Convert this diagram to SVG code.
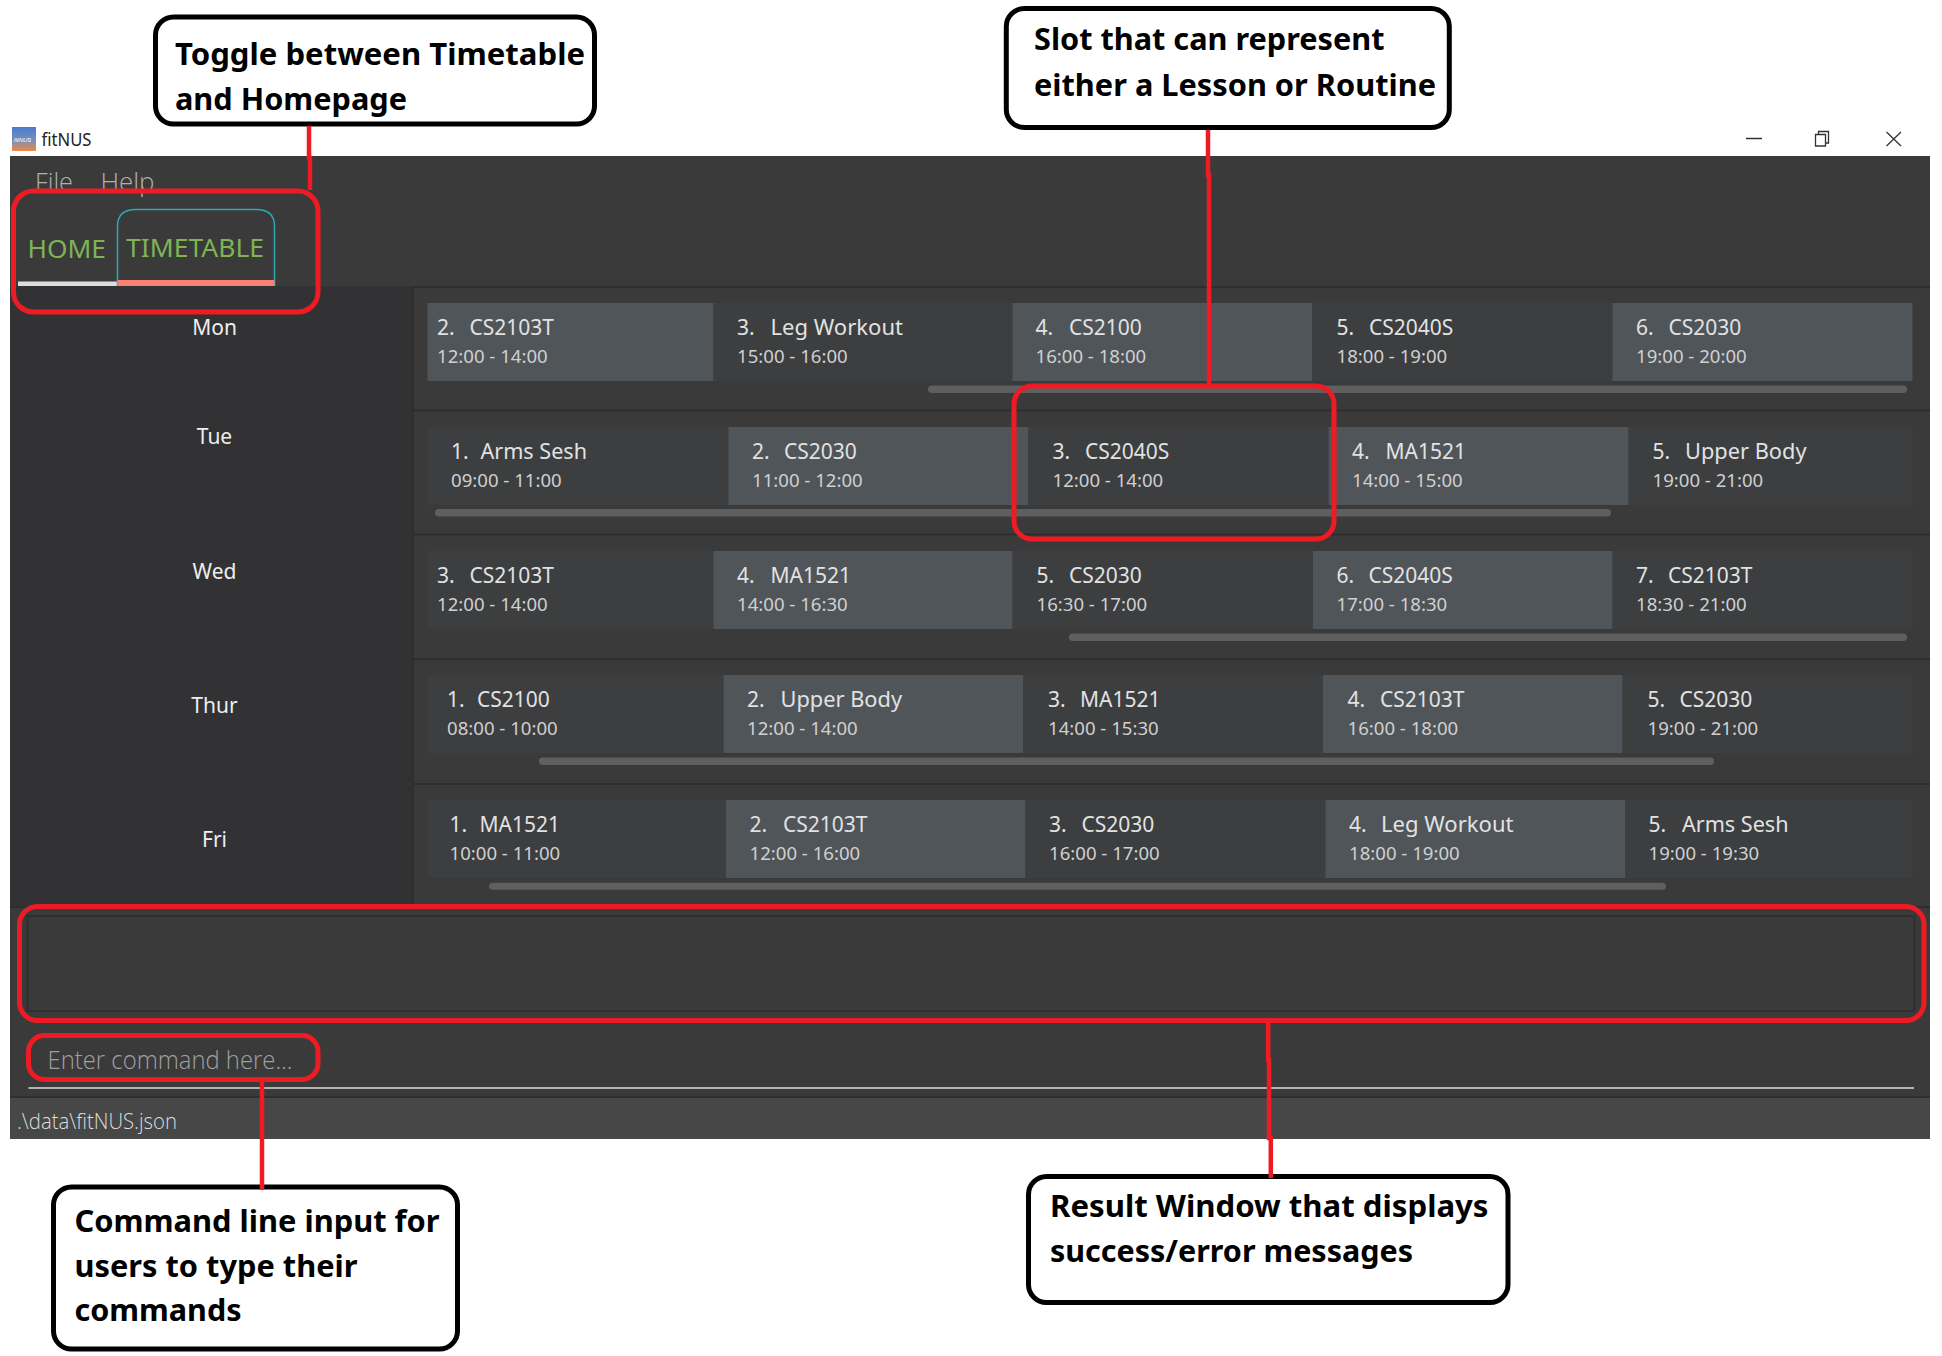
<svg xmlns="http://www.w3.org/2000/svg" width="1942" height="1356" viewBox="0 0 1942 1356">
<style>
.ui{font-family:"Noto Sans","Open Sans","Liberation Sans",sans-serif}
.call{font-family:"Noto Sans","Open Sans","Liberation Sans",sans-serif;font-weight:700;font-size:31px;fill:#000}
.box{fill:#fff;stroke:#000;stroke-width:5}
.red{fill:none;stroke:#ed1c24;stroke-width:5}
.conn{fill:none;stroke:#ed1c24;stroke-width:4.5}
.light{fill:#50555a}
.dark{fill:#3c3e40}
.t1{font-family:"Noto Sans","Open Sans",sans-serif;font-size:21px;fill:#e2e2e2}
.t2{font-family:"Noto Sans","Open Sans",sans-serif;font-size:18.6px;fill:#d0d0d0}
.day{font-family:"Noto Sans","Open Sans",sans-serif;font-size:21px;fill:#eee;text-anchor:middle}
.sb{fill:#5f5f5f}
.sep{stroke:#2e2e2e;stroke-width:2;fill:none}
.thin{font-family:"Open Sans","Noto Sans",sans-serif;font-weight:300}
</style>
<defs>
<linearGradient id="ico" x1="0" y1="0" x2="0" y2="1"><stop offset="0" stop-color="#4a7ccb"/><stop offset="0.5" stop-color="#6f8fc0"/><stop offset="1" stop-color="#ea8a45"/></linearGradient>
</defs>
<rect width="1942" height="1356" fill="#fff"/>
<g id="titlebar">
<rect x="12" y="127" width="24" height="24" fill="url(#ico)"/>
<text x="14" y="142" font-family="Liberation Sans,sans-serif" font-size="6" font-style="italic" fill="#fff">fitNUS</text>
<text x="41.500" y="145.500" class="ui" font-size="18" fill="#222" textLength="50" lengthAdjust="spacingAndGlyphs">fitNUS</text>
<path d="M1746 138.500H1762" stroke="#333" stroke-width="1.500" fill="none"/>
<path d="M1815.500 134.500h10v11.500h-10zM1818.500 134.500v-3h10v11.500h-3" stroke="#333" stroke-width="1.300" fill="none"/>
<path d="M1886.500 132L1901 146M1901 132L1886.500 146" stroke="#333" stroke-width="1.300" fill="none"/>
</g>
<g id="window">
<rect x="10" y="156" width="1920" height="983" fill="#3a3a3a"/>
<rect x="10" y="286" width="403" height="620" fill="#323234"/>
<path class="sep" d="M413 287H1930M413 410.500H1930M413 534.500H1930M413 659H1930M413 784H1930M10 907H1930M413 286V906M10 1097H1930"/>
<rect x="10" y="1098" width="1920" height="41" fill="#474747"/>
</g>
<g id="menu">
<text x="35" y="191" class="thin" font-size="26" fill="#b0b0b0" textLength="38" lengthAdjust="spacingAndGlyphs">File</text>
<text x="100.500" y="191" class="thin" font-size="26" fill="#b0b0b0" textLength="54" lengthAdjust="spacingAndGlyphs">Help</text>
</g>
<g id="tab-home">
<rect x="18" y="281.500" width="99" height="4.500" fill="#ddd"/>
<text x="27.500" y="258" class="ui" font-size="26" fill="#7fb356" textLength="78.500" lengthAdjust="spacingAndGlyphs">HOME</text>
</g>
<g id="tab-timetable">
<path d="M117.500 286V226Q117.500 209.500 136 209.500H256Q274.500 209.500 274.500 226V286" fill="none" stroke="#2aa9b2" stroke-width="1.500"/>
<rect x="117.500" y="280" width="157" height="6" fill="#fa8072"/>
<text x="126" y="256.500" class="ui" font-size="26" fill="#7fb356" textLength="138" lengthAdjust="spacingAndGlyphs">TIMETABLE</text>
</g>
<g id="days">
<text x="214.500" y="335" class="day">Mon</text>
<text x="214.500" y="444" class="day">Tue</text>
<text x="214.500" y="579" class="day">Wed</text>
<text x="214.500" y="713" class="day">Thur</text>
<text x="214.500" y="847" class="day">Fri</text>
</g>
<g id="row-mon">
<g id="mon-1"><rect class="light" x="427.500" y="303" width="286" height="78"/><text class="t1" y="335"><tspan x="437">2.</tspan> <tspan x="469.500">CS2103T</tspan></text><text class="t2" x="437" y="363">12:00 - 14:00</text></g>
<g id="mon-2"><rect class="dark" x="713.500" y="303" width="299" height="78"/><text class="t1" y="335"><tspan x="737">3.</tspan> <tspan x="770.500" textLength="132.500" lengthAdjust="spacingAndGlyphs">Leg Workout</tspan></text><text class="t2" x="737" y="363">15:00 - 16:00</text></g>
<g id="mon-3"><rect class="light" x="1012.500" y="303" width="299.500" height="78"/><text class="t1" y="335"><tspan x="1035.500">4.</tspan> <tspan x="1069">CS2100</tspan></text><text class="t2" x="1035.500" y="363">16:00 - 18:00</text></g>
<g id="mon-4"><rect class="dark" x="1312" y="303" width="300.500" height="78"/><text class="t1" y="335"><tspan x="1336.500">5.</tspan> <tspan x="1369">CS2040S</tspan></text><text class="t2" x="1336.500" y="363">18:00 - 19:00</text></g>
<g id="mon-5"><rect class="light" x="1612.500" y="303" width="300" height="78"/><text class="t1" y="335"><tspan x="1636">6.</tspan> <tspan x="1668.500">CS2030</tspan></text><text class="t2" x="1636" y="363">19:00 - 20:00</text></g>
<rect class="sb" x="928" y="385.500" width="979" height="7.500" rx="3.700"/>
</g>
<g id="row-tue">
<g id="tue-1"><rect class="dark" x="427.500" y="427" width="301" height="78"/><text class="t1" y="459"><tspan x="451">1.</tspan> <tspan x="480.500" textLength="106.500" lengthAdjust="spacingAndGlyphs">Arms Sesh</tspan></text><text class="t2" x="451" y="487">09:00 - 11:00</text></g>
<g id="tue-2"><rect class="light" x="728.500" y="427" width="299.500" height="78"/><text class="t1" y="459"><tspan x="752">2.</tspan> <tspan x="784">CS2030</tspan></text><text class="t2" x="752" y="487">11:00 - 12:00</text></g>
<g id="tue-3"><rect class="dark" x="1028" y="427" width="300.500" height="78"/><text class="t1" y="459"><tspan x="1052.500">3.</tspan> <tspan x="1085">CS2040S</tspan></text><text class="t2" x="1052.500" y="487">12:00 - 14:00</text></g>
<g id="tue-4"><rect class="light" x="1328.500" y="427" width="300" height="78"/><text class="t1" y="459"><tspan x="1352">4.</tspan> <tspan x="1385.500">MA1521</tspan></text><text class="t2" x="1352" y="487">14:00 - 15:00</text></g>
<g id="tue-5"><rect class="dark" x="1628.500" y="427" width="284" height="78"/><text class="t1" y="459"><tspan x="1652.500">5.</tspan> <tspan x="1685" textLength="121.500" lengthAdjust="spacingAndGlyphs">Upper Body</tspan></text><text class="t2" x="1652.500" y="487">19:00 - 21:00</text></g>
<rect class="sb" x="435" y="509" width="1176" height="7.500" rx="3.700"/>
</g>
<g id="row-wed">
<g id="wed-1"><rect class="dark" x="427.500" y="551" width="286" height="78"/><text class="t1" y="583"><tspan x="437">3.</tspan> <tspan x="469.500">CS2103T</tspan></text><text class="t2" x="437" y="611">12:00 - 14:00</text></g>
<g id="wed-2"><rect class="light" x="713.500" y="551" width="299" height="78"/><text class="t1" y="583"><tspan x="737">4.</tspan> <tspan x="770.500">MA1521</tspan></text><text class="t2" x="737" y="611">14:00 - 16:30</text></g>
<g id="wed-3"><rect class="dark" x="1012.500" y="551" width="300.500" height="78"/><text class="t1" y="583"><tspan x="1036.500">5.</tspan> <tspan x="1069">CS2030</tspan></text><text class="t2" x="1036.500" y="611">16:30 - 17:00</text></g>
<g id="wed-4"><rect class="light" x="1313" y="551" width="299.500" height="78"/><text class="t1" y="583"><tspan x="1336.500">6.</tspan> <tspan x="1368.500">CS2040S</tspan></text><text class="t2" x="1336.500" y="611">17:00 - 18:30</text></g>
<g id="wed-5"><rect class="dark" x="1612.500" y="551" width="300" height="78"/><text class="t1" y="583"><tspan x="1636">7.</tspan> <tspan x="1668">CS2103T</tspan></text><text class="t2" x="1636" y="611">18:30 - 21:00</text></g>
<rect class="sb" x="1069" y="633.500" width="838" height="7.500" rx="3.700"/>
</g>
<g id="row-thur">
<g id="thur-1"><rect class="dark" x="427.500" y="675" width="296" height="78"/><text class="t1" y="707"><tspan x="447">1.</tspan> <tspan x="477">CS2100</tspan></text><text class="t2" x="447" y="735">08:00 - 10:00</text></g>
<g id="thur-2"><rect class="light" x="723.500" y="675" width="299.500" height="78"/><text class="t1" y="707"><tspan x="747">2.</tspan> <tspan x="780.500" textLength="121.500" lengthAdjust="spacingAndGlyphs">Upper Body</tspan></text><text class="t2" x="747" y="735">12:00 - 14:00</text></g>
<g id="thur-3"><rect class="dark" x="1023" y="675" width="300" height="78"/><text class="t1" y="707"><tspan x="1048">3.</tspan> <tspan x="1080">MA1521</tspan></text><text class="t2" x="1048" y="735">14:00 - 15:30</text></g>
<g id="thur-4"><rect class="light" x="1323" y="675" width="299.500" height="78"/><text class="t1" y="707"><tspan x="1347.500">4.</tspan> <tspan x="1380">CS2103T</tspan></text><text class="t2" x="1347.500" y="735">16:00 - 18:00</text></g>
<g id="thur-5"><rect class="dark" x="1622.500" y="675" width="290" height="78"/><text class="t1" y="707"><tspan x="1647.500">5.</tspan> <tspan x="1679.500">CS2030</tspan></text><text class="t2" x="1647.500" y="735">19:00 - 21:00</text></g>
<rect class="sb" x="539" y="757.500" width="1175" height="7.500" rx="3.700"/>
</g>
<g id="row-fri">
<g id="fri-1"><rect class="dark" x="427.500" y="800" width="298.500" height="78"/><text class="t1" y="832"><tspan x="449.500">1.</tspan> <tspan x="479.500">MA1521</tspan></text><text class="t2" x="449.500" y="860">10:00 - 11:00</text></g>
<g id="fri-2"><rect class="light" x="726" y="800" width="299.500" height="78"/><text class="t1" y="832"><tspan x="749.500">2.</tspan> <tspan x="783">CS2103T</tspan></text><text class="t2" x="749.500" y="860">12:00 - 16:00</text></g>
<g id="fri-3"><rect class="dark" x="1025.500" y="800" width="300" height="78"/><text class="t1" y="832"><tspan x="1049">3.</tspan> <tspan x="1081.500">CS2030</tspan></text><text class="t2" x="1049" y="860">16:00 - 17:00</text></g>
<g id="fri-4"><rect class="light" x="1325.500" y="800" width="299.500" height="78"/><text class="t1" y="832"><tspan x="1349">4.</tspan> <tspan x="1381" textLength="132.500" lengthAdjust="spacingAndGlyphs">Leg Workout</tspan></text><text class="t2" x="1349" y="860">18:00 - 19:00</text></g>
<g id="fri-5"><rect class="dark" x="1625" y="800" width="287.500" height="78"/><text class="t1" y="832"><tspan x="1648.500">5.</tspan> <tspan x="1682" textLength="106.500" lengthAdjust="spacingAndGlyphs">Arms Sesh</tspan></text><text class="t2" x="1648.500" y="860">19:00 - 19:30</text></g>
<rect class="sb" x="489" y="882.700" width="1177" height="7" rx="3.500"/>
</g>
<g id="result-window"><rect x="27.500" y="916" width="1887" height="95" fill="#3a3a3a" stroke="#2f2f2f" stroke-width="2"/></g>
<g id="command-box">
<text x="47.500" y="1069" class="thin" font-size="25" fill="#a0a0a0" textLength="245" lengthAdjust="spacingAndGlyphs">Enter command here...</text>
<path d="M28.500 1088H1914" stroke="#ddd" stroke-width="1.500" fill="none"/>
</g>
<g id="status-bar"><text x="17" y="1129" class="thin" font-size="22" fill="#ddd" textLength="160" lengthAdjust="spacingAndGlyphs">.\data\fitNUS.json</text></g>
<g id="highlights">
<rect id="hl-tabs" class="red" x="13.500" y="191" width="304.500" height="121" rx="20"/>
<rect id="hl-slot" class="red" x="1014" y="386" width="320" height="153" rx="18"/>
<rect id="hl-result" class="red" x="19.500" y="906.500" width="1904.500" height="114" rx="18"/>
<rect id="hl-command" class="red" x="28.500" y="1035.500" width="289.500" height="44" rx="16"/>
</g>
<g id="callout-toggle">
<rect class="box" x="155.500" y="17" width="439" height="107" rx="18"/>
<text class="call" x="175" y="65" textLength="410" lengthAdjust="spacingAndGlyphs">Toggle between Timetable</text>
<text class="call" x="175" y="110" textLength="232" lengthAdjust="spacingAndGlyphs">and Homepage</text>
</g>
<g id="callout-slot">
<rect class="box" x="1006.300" y="8.500" width="443" height="119" rx="18"/>
<text class="call" x="1034" y="50" textLength="350.500" lengthAdjust="spacingAndGlyphs">Slot that can represent</text>
<text class="call" x="1034" y="95.500" textLength="402" lengthAdjust="spacingAndGlyphs">either a Lesson or Routine</text>
</g>
<g id="callout-command">
<rect class="box" x="53.500" y="1187" width="404" height="162" rx="18"/>
<text class="call" x="74.500" y="1231.500" textLength="365" lengthAdjust="spacingAndGlyphs">Command line input for</text>
<text class="call" x="74.500" y="1276.500" textLength="283" lengthAdjust="spacingAndGlyphs">users to type their</text>
<text class="call" x="74.500" y="1321" textLength="167" lengthAdjust="spacingAndGlyphs">commands</text>
</g>
<g id="callout-result">
<rect class="box" x="1028.500" y="1176.500" width="479.500" height="126" rx="18"/>
<text class="call" x="1050" y="1217" textLength="438.500" lengthAdjust="spacingAndGlyphs">Result Window that displays</text>
<text class="call" x="1050" y="1262" textLength="363" lengthAdjust="spacingAndGlyphs">success/error messages</text>
</g>
<g id="connectors">
<path class="conn" d="M309 126V158H310V190"/>
<path class="conn" d="M1208 130V175H1209V387"/>
<path class="conn" d="M262 1082V1190"/>
<path class="conn" d="M1268.200 1022V1060H1269V1138H1270.800V1178"/>
</g>
</svg>
